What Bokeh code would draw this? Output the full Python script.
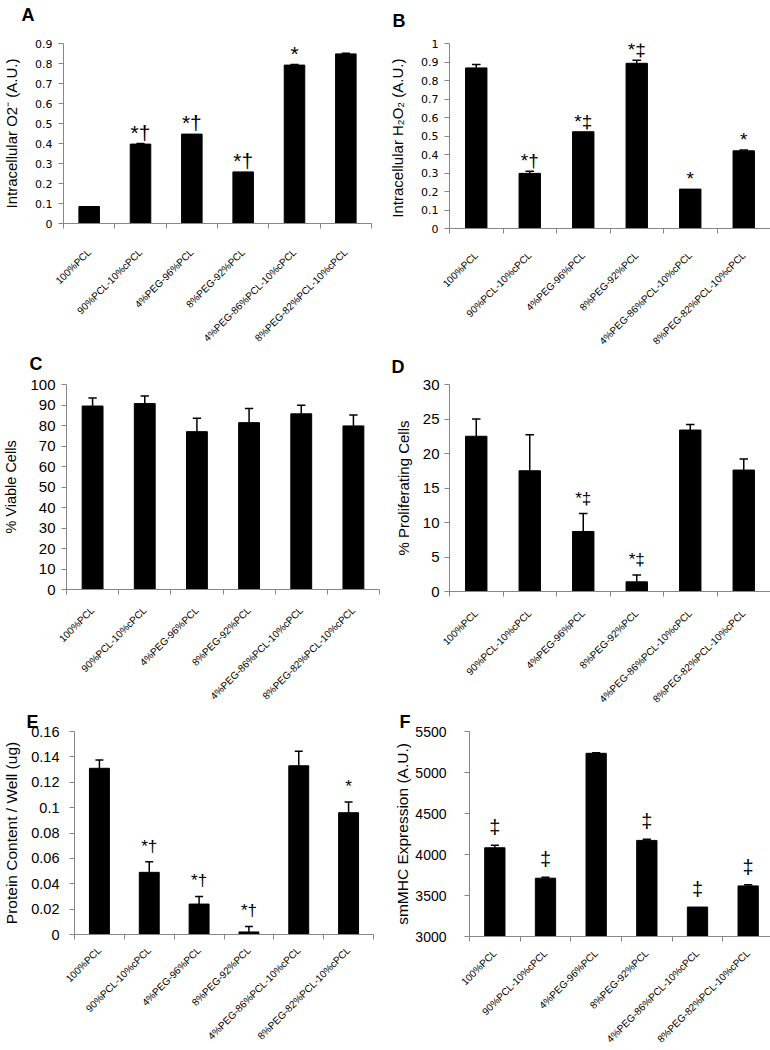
import math
from bokeh.plotting import figure
from bokeh.layouts import column, row
from bokeh.models import Range1d, FixedTicker, Title
from bokeh.core.properties import value
from bokeh.embed import file_html
from bokeh.resources import INLINE

# ---------------- data ----------------
categories = ["100%PCL", "90%PCL-10%cPCL", "4%PEG-96%PCL", "8%PEG-92%PCL",
              "4%PEG-86%PCL-10%cPCL", "8%PEG-82%PCL-10%cPCL"]

o2_values = [0.085, 0.397, 0.447, 0.258, 0.792, 0.848]
o2_errors = [0.0, 0.003, 0.0, 0.0, 0.003, 0.003]
o2_marks = ["", "*†", "*†", "*†", "*", "*"]
o2_ticks = [0, 0.1, 0.2, 0.3, 0.4, 0.5, 0.6, 0.7, 0.8, 0.9]

h2o2_values = [0.868, 0.298, 0.523, 0.893, 0.213, 0.420]
h2o2_errors = [0.018, 0.012, 0.0, 0.017, 0.0, 0.004]
h2o2_marks = ["", "*†", "*‡", "*‡", "*", "*"]
h2o2_ticks = [0, 0.1, 0.2, 0.3, 0.4, 0.5, 0.6, 0.7, 0.8, 0.9, 1]

viable_values = [89.5, 90.7, 77.0, 81.4, 85.7, 79.8]
viable_errors = [3.9, 3.7, 6.5, 6.9, 4.2, 5.3]
viable_marks = ["", "", "", "", "", ""]
viable_ticks = [0, 10, 20, 30, 40, 50, 60, 70, 80, 90, 100]

prolif_values = [22.5, 17.5, 8.7, 1.4, 23.4, 17.6]
prolif_errors = [2.5, 5.2, 2.6, 1.0, 0.8, 1.6]
prolif_marks = ["", "", "*‡", "*‡", "", ""]
prolif_ticks = [0, 5, 10, 15, 20, 25, 30]

protein_values = [0.131, 0.049, 0.024, 0.002, 0.133, 0.096]
protein_errors = [0.0065, 0.0083, 0.006, 0.0044, 0.0115, 0.0084]
protein_marks = ["", "*†", "*†", "*†", "", "*"]
protein_ticks = [0, 0.02, 0.04, 0.06, 0.08, 0.1, 0.12, 0.14, 0.16]

smmhc_values = [4082, 3711, 5234, 4172, 3359, 3617]
smmhc_errors = [30, 12, 8, 15, 0, 15]
smmhc_marks = ["‡", "‡", "", "‡", "‡", "‡"]
smmhc_ticks = [3000, 3500, 4000, 4500, 5000, 5500]

AXIS_GRAY = "#868686"
SANS = "Liberation Sans"


def panel(values, errors, marks, yticks, ylabel, letter, *, fw, fh, left,
          right, top, bottom, tick_font, tick_size, label_size,
          label_standoff, tick_standoff, mark_gap, mark_size, cat_gap,
          letter_offset, spacer):
    n = len(categories)
    centers = [i + 0.5 for i in range(n)]
    bounds = list(range(n + 1))
    ymin, ymax = yticks[0], yticks[-1]
    p = figure(frame_width=fw, frame_height=fh, x_range=Range1d(0, n),
               y_range=Range1d(ymin, ymax), output_backend="svg",
               toolbar_location=None, min_border_left=left,
               min_border_right=right, min_border_top=top,
               min_border_bottom=bottom)
    p.outline_line_color = None
    p.xgrid.visible = False
    p.ygrid.visible = False
    p.background_fill_color = "white"
    p.border_fill_color = "white"

    # panel letter
    p.title.text = letter
    p.title.align = "left"
    p.title.vertical_align = "bottom"
    p.title.offset = letter_offset
    p.title.standoff = 0
    p.title.text_font = SANS
    p.title.text_font_style = "bold"
    p.title.text_font_size = "18px"
    p.title.text_color = "black"
    if spacer > 0:
        p.add_layout(Title(text=" ", text_font_size="1px", standoff=spacer),
                     "above")

    p.vbar(x=centers, top=values, bottom=ymin, width=0.4,
           fill_color="black", line_color="black")

    tops = [v + e for v, e in zip(values, errors)]
    ex = [c for c, e in zip(centers, errors) if e > 0]
    ev = [v for v, e in zip(values, errors) if e > 0]
    et = [t for t, e in zip(tops, errors) if e > 0]
    p.segment(x0=ex, y0=ev, x1=ex, y1=et, line_color="black", line_width=1.5)
    p.segment(x0=[x - 0.08 for x in ex], y0=et, x1=[x + 0.08 for x in ex],
              y1=et, line_color="black", line_width=1.5)

    p.text(x=centers, y=tops, text=marks, text_align="center",
           text_baseline="bottom", y_offset=-mark_gap,
           text_font=value(SANS), text_font_size=mark_size,
           text_color="black")

    xa = p.xaxis[0]
    xa.ticker = FixedTicker(ticks=centers, minor_ticks=bounds)
    xa.major_label_overrides = {c: name for c, name in zip(centers, categories)}
    xa.major_label_orientation = math.pi / 4
    xa.major_tick_in = 0
    xa.major_tick_out = 0
    xa.minor_tick_in = 0
    xa.minor_tick_out = 5
    xa.minor_tick_line_color = AXIS_GRAY
    xa.axis_line_color = AXIS_GRAY
    xa.major_label_text_font = SANS
    xa.major_label_text_font_size = "10px"
    xa.major_label_text_color = "black"
    xa.major_label_standoff = cat_gap

    ya = p.yaxis[0]
    ya.ticker = FixedTicker(ticks=yticks)
    ya.major_label_overrides = {t: f"{t:g}" for t in yticks}
    ya.major_tick_in = 0
    ya.major_tick_out = 5
    ya.major_tick_line_color = AXIS_GRAY
    ya.minor_tick_line_color = None
    ya.axis_line_color = AXIS_GRAY
    ya.major_label_text_font = tick_font
    ya.major_label_text_font_size = tick_size
    ya.major_label_text_color = "black"
    ya.major_label_standoff = tick_standoff
    ya.axis_label = ylabel
    ya.axis_label_text_font = SANS
    ya.axis_label_text_font_style = "normal"
    ya.axis_label_text_font_size = label_size
    ya.axis_label_text_color = "black"
    ya.axis_label_standoff = label_standoff
    return p


# Row 1
pA = panel(o2_values, o2_errors, o2_marks, o2_ticks,
           "Intracellular O2\u207b (A.U.)", "A",
           fw=308, fh=180, left=62, right=15, top=43, bottom=128,
           tick_font="DejaVu Sans", tick_size="11px", label_size="15px",
           label_standoff=12, tick_standoff=6, mark_gap=0, mark_size="21px",
           cat_gap=22, letter_offset=-42, spacer=16)

pB = panel(h2o2_values, h2o2_errors, h2o2_marks, h2o2_ticks,
           "Intracellular H\u2082O\u2082  (A.U.)", "B",
           fw=321, fh=185, left=59, right=5, top=35, bottom=131,
           tick_font="DejaVu Sans", tick_size="11px", label_size="15px",
           label_standoff=12, tick_standoff=6, mark_gap=0, mark_size="19px",
           cat_gap=20, letter_offset=-57, spacer=10)

# Row 2
pC = panel(viable_values, viable_errors, viable_marks, viable_ticks,
           "% Viable Cells", "C",
           fw=313, fh=205, left=62, right=10, top=32, bottom=118,
           tick_font=SANS, tick_size="15px", label_size="14.5px",
           label_standoff=8, tick_standoff=6, mark_gap=5, mark_size="15px",
           cat_gap=14, letter_offset=-37, spacer=8)

pD = panel(prolif_values, prolif_errors, prolif_marks, prolif_ticks,
           "% Proliferating Cells", "D",
           fw=321, fh=207, left=60, right=4, top=29, bottom=119,
           tick_font=SANS, tick_size="15px", label_size="15px",
           label_standoff=8, tick_standoff=5, mark_gap=6, mark_size="17px",
           cat_gap=15, letter_offset=-58, spacer=5)

# Row 3
pE = panel(protein_values, protein_errors, protein_marks, protein_ticks,
           "Protein Content / Well (ug)", "E",
           fw=299, fh=203, left=68, right=18, top=23, bottom=113,
           tick_font=SANS, tick_size="14.5px", label_size="15.5px",
           label_standoff=8, tick_standoff=10, mark_gap=6, mark_size="17px",
           cat_gap=9, letter_offset=-48, spacer=0)

pF = panel(smmhc_values, smmhc_errors, smmhc_marks, smmhc_ticks,
           "smMHC Expression (A.U.)", "F",
           fw=304, fh=205, left=73, right=8, top=22, bottom=114,
           tick_font=SANS, tick_size="14px", label_size="15.5px",
           label_standoff=1, tick_standoff=18, mark_gap=7, mark_size="20px",
           cat_gap=10, letter_offset=-70, spacer=0)

layout = column(row(pA, pB), row(pC, pD), row(pE, pF))
open("out.html", "w").write(file_html(layout, INLINE))
